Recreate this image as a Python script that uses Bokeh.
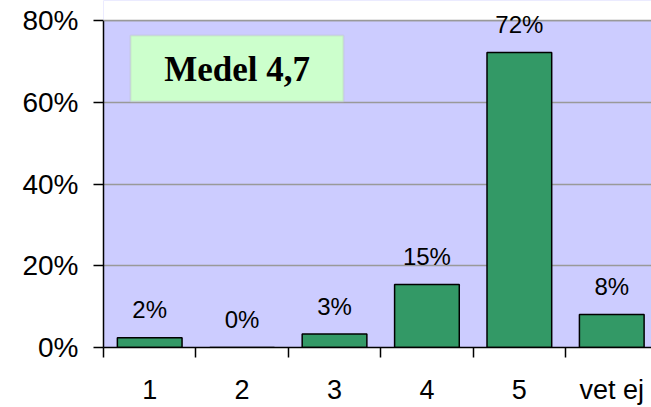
from bokeh.plotting import figure
from bokeh.models import (ColumnDataSource, FixedTicker, PrintfTickFormatter,
                          Label, BoxAnnotation, Range1d, Span)
from bokeh.embed import file_html
from bokeh.resources import INLINE

# ---- data ----
categories = ["1", "2", "3", "4", "5", "vet ej"]
values = [2.4, 0.0, 3.3, 15.4, 72.2, 8.1]
value_labels = ["2%", "0%", "3%", "15%", "72%", "8%"]
y_ticks = [0, 20, 40, 60, 80]
y_max = 80
mean_text = "Medel 4,7"

positions = list(range(len(categories)))
src = ColumnDataSource(dict(x=positions, top=values, lbl=value_labels))

# frame runs to the canvas top so the top value label is not clipped;
# the part above y_max is painted white to look like page background
p = figure(width=651, height=407, output_backend="svg", toolbar_location=None,
           x_range=Range1d(-0.5, 5.43), y_range=Range1d(0, y_max * 347 / 327),
           min_border_left=103, min_border_right=0, min_border_top=0,
           min_border_bottom=60)
p.background_fill_color = "#CCCCFF"
p.border_fill_color = "white"
p.outline_line_color = None

p.vbar(x="x", top="top", width=0.7, source=src, fill_color="#339966",
       line_color="black", line_width=1.5)

# white band above the plotting area
p.add_layout(BoxAnnotation(bottom=y_max, fill_color="white", fill_alpha=1.0,
                           line_color=None))
p.add_layout(Span(location=y_max, dimension="width", line_color="#999999",
                  line_width=1.5))

# value labels above bars
for xi, yi, txt in zip(positions, values, value_labels):
    p.add_layout(Label(x=xi, y=yi, text=txt, y_offset=28,
                       text_align="center", text_baseline="middle",
                       text_font="Liberation Sans", text_font_size="24px",
                       text_color="black"))

box = BoxAnnotation(left=-0.208, right=2.097, bottom=60.2, top=76.3,
                    fill_color="#CCFFCC", fill_alpha=1.0,
                    line_color="#BBBBBB", line_width=2)
p.add_layout(box)
p.add_layout(Label(x=0.945, y=68.0, text=mean_text, text_align="center",
                   text_baseline="middle", text_font="Liberation Serif",
                   text_font_style="bold", text_font_size="35px",
                   text_color="black"))

# grid
p.xgrid.visible = False
p.ygrid.grid_line_color = "#999999"
p.ygrid.grid_line_width = 1.5
p.ygrid.ticker = FixedTicker(ticks=y_ticks)

# y axis
p.yaxis.ticker = FixedTicker(ticks=y_ticks)
p.yaxis.bounds = (0, y_max)
p.yaxis.formatter = PrintfTickFormatter(format="%d%%")
p.yaxis.axis_line_color = "black"
p.yaxis.axis_line_width = 1.5
p.yaxis.major_tick_in = 0
p.yaxis.major_tick_out = 10
p.yaxis.major_tick_line_color = "black"
p.yaxis.major_tick_line_width = 1.5
p.yaxis.minor_tick_line_color = None
p.yaxis.major_label_standoff = 15
p.yaxis.major_label_text_font = "Liberation Sans"
p.yaxis.major_label_text_font_size = "28px"
p.yaxis.major_label_text_color = "black"

# x axis: labels at centers, tick marks at boundaries
boundaries = [i - 0.5 for i in range(len(categories) + 1)]
p.xaxis.ticker = FixedTicker(ticks=positions, minor_ticks=boundaries)
p.xaxis.major_label_overrides = {i: c for i, c in zip(positions, categories)}
p.xaxis.axis_line_color = "black"
p.xaxis.axis_line_width = 1.5
p.xaxis.major_tick_in = 0
p.xaxis.major_tick_out = 0
p.xaxis.minor_tick_in = 0
p.xaxis.minor_tick_out = 10
p.xaxis.minor_tick_line_color = "black"
p.xaxis.minor_tick_line_width = 1.5
p.xaxis.major_label_standoff = 17
p.xaxis.major_label_text_font = "Liberation Sans"
p.xaxis.major_label_text_font_size = "27px"
p.xaxis.major_label_text_color = "black"

open("out.html", "w").write(file_html(p, INLINE))
